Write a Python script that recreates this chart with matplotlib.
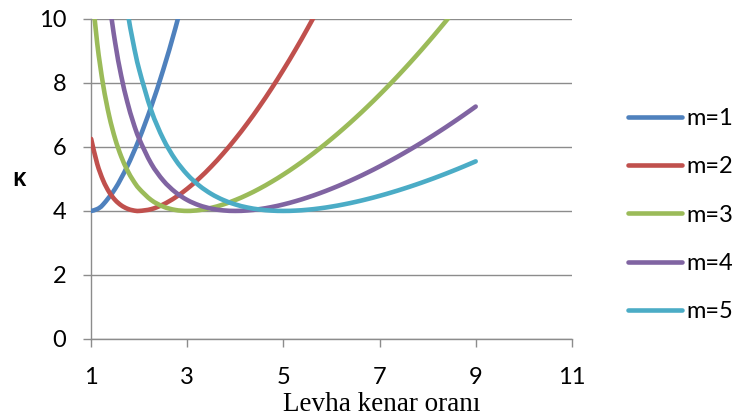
import matplotlib
matplotlib.use("Agg")
import matplotlib.pyplot as plt
from matplotlib.path import Path
from matplotlib.patches import PathPatch
from matplotlib.lines import Line2D

# Buckling coefficient K versus plate aspect ratio for half-wave counts m=1..5
x_m1 = [1, 1.125, 1.25, 1.5, 1.75, 2, 2.25, 2.5, 2.75, 3]
k_m1 = [4.0, 4.0557, 4.2025, 4.694, 5.389, 6.25, 7.26, 8.41, 9.695, 11.111]

x_m2 = [1, 1.125, 1.25, 1.375, 1.5, 1.625, 1.75, 1.875, 2, 2.25, 2.5, 2.75, 3,
        3.25, 3.5, 3.75, 4, 4.25, 4.5, 4.75, 5, 5.25, 5.5, 5.75, 6]
k_m2 = [6.25, 5.4769, 4.951, 4.5884, 4.34, 4.1749, 4.0718, 4.0167, 4.0, 4.0557,
        4.2025, 4.4196, 4.694, 5.0193, 5.389, 5.8001, 6.25, 6.7371, 7.26, 7.8179,
        8.41, 9.0357, 9.6947, 10.3866, 11.111]

x_m3 = [1, 1.125, 1.25, 1.375, 1.5, 1.625, 1.75, 1.875, 2, 2.25, 2.5, 2.75, 3,
        3.25, 3.5, 3.75, 4, 4.25, 4.5, 4.75, 5, 5.25, 5.5, 5.75, 6, 6.25, 6.5,
        6.75, 7, 7.25, 7.5, 7.75, 8, 8.25, 8.5, 8.75]
k_m3 = [11.111, 9.2517, 7.9336, 6.9704, 6.25, 5.7017, 5.279, 4.9506, 4.694, 4.34,
        4.1344, 4.0304, 4.0, 4.0257, 4.0958, 4.2025, 4.34, 4.5052, 4.694, 4.9058,
        5.1378, 5.389, 5.6586, 5.9458, 6.25, 6.5707, 6.9075, 7.26, 7.6281, 8.0115,
        8.41, 8.8235, 9.2517, 9.6947, 10.1523, 10.6245]

x_m4 = [1.25, 1.375, 1.5, 1.625, 1.75, 1.875, 2, 2.25, 2.5, 2.75, 3, 3.25, 3.5,
        3.75, 4, 4.25, 4.5, 4.75, 5, 5.25, 5.5, 5.75, 6, 6.25, 6.5, 6.75, 7,
        7.25, 7.5, 7.75, 8, 8.25, 8.5, 8.75, 9]
k_m4 = [12.3377, 10.581, 9.2517, 8.2242, 7.4159, 6.7708, 6.25, 5.4769, 4.9506,
        4.5884, 4.3403, 4.1749, 4.0718, 4.0167, 4.0, 4.0147, 4.0557, 4.1193, 4.2025,
        4.3032, 4.4196, 4.5503, 4.6944, 4.851, 5.0193, 5.1988, 5.389, 5.5896,
        5.8001, 6.0203, 6.25, 6.489, 6.7371, 6.9941, 7.26]

x_m5 = [1.625, 1.75, 1.875, 2, 2.25, 2.5, 2.75, 3, 3.25, 3.5, 3.75, 4, 4.25, 4.5,
        4.75, 5, 5.25, 5.5, 5.75, 6, 6.25, 6.5, 6.75, 7, 7.25, 7.5, 7.75, 8,
        8.25, 8.5, 8.75, 9]
k_m5 = [11.5731, 10.2858, 9.2517, 8.41, 7.1408, 6.25, 5.6083, 5.1378, 4.7894,
        4.5308, 4.3403, 4.2025, 4.1066, 4.0446, 4.0105, 4.0, 4.0095, 4.0364, 4.0786,
        4.1344, 4.2025, 4.2817, 4.3712, 4.4702, 4.5781, 4.6944, 4.8187, 4.9506,
        5.0898, 5.236, 5.389, 5.5486]

labels = ["m=1", "m=2", "m=3", "m=4", "m=5"]
colors = ["#4F81BD", "#C0504D", "#9BBB59", "#8064A2", "#4BACC6"]
x_ticks = [1, 3, 5, 7, 9, 11]
y_ticks = [0, 2, 4, 6, 8, 10]


def smooth_path(xs, ys):
    """Smoothed line through the points (Catmull-Rom segments as cubic Beziers)."""
    pts = list(zip(xs, ys))
    n = len(pts)
    verts = [pts[0]]
    codes = [Path.MOVETO]
    for i in range(n - 1):
        p0 = pts[i - 1] if i > 0 else pts[i]
        p1 = pts[i]
        p2 = pts[i + 1]
        p3 = pts[i + 2] if i + 2 < n else pts[i + 1]
        c1 = (p1[0] + (p2[0] - p0[0]) / 6.0, p1[1] + (p2[1] - p0[1]) / 6.0)
        c2 = (p2[0] - (p3[0] - p1[0]) / 6.0, p2[1] - (p3[1] - p1[1]) / 6.0)
        verts += [c1, c2, p2]
        codes += [Path.CURVE4, Path.CURVE4, Path.CURVE4]
    return Path(verts, codes)


plt.rcParams["font.family"] = ["Lato", "DejaVu Sans"]

fig = plt.figure(figsize=(7.35, 4.19), dpi=100)
ax = fig.add_axes([0.124, 0.191, 0.654, 0.764])

series = [(x_m1, k_m1), (x_m2, k_m2), (x_m3, k_m3), (x_m4, k_m4), (x_m5, k_m5)]
handles = []
for (xs, ks), lab, col in zip(series, labels, colors):
    patch = PathPatch(smooth_path(xs, ks), facecolor="none", edgecolor=col,
                      lw=3.3, capstyle="round", joinstyle="round",
                      transform=ax.transData, zorder=3)
    ax.add_patch(patch)
    handles.append(Line2D([], [], color=col, lw=3.3, solid_capstyle="round",
                          label=lab))

ax.set_xlim(1, 11)
ax.set_ylim(0, 10)
ax.set_xticks(x_ticks)
ax.set_yticks(y_ticks)

grid_col = "#8C8C8C"
ax.yaxis.grid(True, color=grid_col, lw=1.0)
ax.set_axisbelow(True)
for side in ("top", "right"):
    ax.spines[side].set_visible(False)
for side in ("left", "bottom"):
    ax.spines[side].set_color(grid_col)
    ax.spines[side].set_linewidth(1.0)
ax.tick_params(axis="both", direction="out", length=6, width=1.0,
               color=grid_col, labelsize=17, labelcolor="black")
ax.tick_params(axis="y", pad=12)
ax.tick_params(axis="x", pad=14)

# Axis titles placed as figure text
fig.text(382 / 735, 1 - 404 / 419, "Levha kenar oranı",
         family=["Liberation Serif"], fontsize=19.5, ha="center", va="center")
fig.text(19 / 735, 1 - 181 / 419, "K", family=["Open Sans", "DejaVu Sans"],
         fontsize=14.5, fontweight="bold", ha="center", va="center")

fig.legend(handles=handles, loc="upper left", bbox_to_anchor=(0.841, 0.764),
           frameon=False, fontsize=17, handlelength=2.3, handletextpad=0.2,
           labelspacing=1.15, borderaxespad=0)

fig.savefig("out.png", dpi=100)
